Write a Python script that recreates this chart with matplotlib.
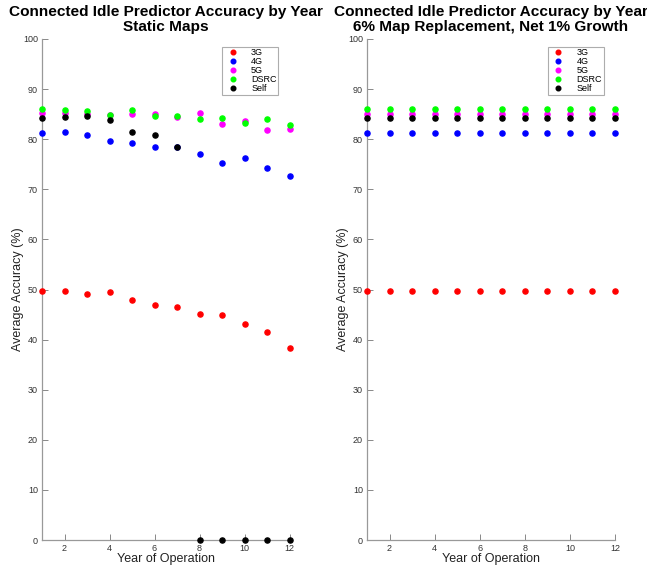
import matplotlib
matplotlib.use("Agg")
import matplotlib.pyplot as plt
import numpy as np

plt.rcParams['font.family'] = ['Liberation Sans', 'DejaVu Sans']

years = [1, 2, 3, 4, 5, 6, 7, 8, 9, 10, 11, 12]
series_names = ["3G", "4G", "5G", "DSRC", "Self"]
colors = ["#ff0000", "#0000ff", "#ff00ff", "#00ff00", "#000000"]

# Static maps
static_3g = [49.7, 49.7, 49.2, 49.5, 48.0, 47.0, 46.5, 45.1, 45.0, 43.2, 41.5, 38.4]
static_4g = [81.2, 81.4, 80.9, 79.6, 79.3, 78.5, 78.5, 77.0, 75.3, 76.2, 74.3, 72.6]
static_5g = [85.2, 85.2, 85.0, 84.8, 85.0, 85.1, 84.4, 85.3, 83.0, 83.7, 81.8, 82.0]
static_dsrc = [86.0, 85.8, 85.7, 84.8, 85.8, 84.6, 84.7, 84.1, 84.3, 83.3, 84.1, 82.9]
static_self = [84.3, 84.4, 84.6, 83.9, 81.4, 80.8, 78.5, 0.0, 0.0, 0.0, 0.0, 0.0]

# 6% map replacement, net 1% growth
repl_3g = [49.7] * 12
repl_4g = [81.2] * 12
repl_5g = [85.1] * 12
repl_dsrc = [86.0] * 12
repl_self = [84.3] * 12

titles = ["Connected Idle Predictor Accuracy by Year\nStatic Maps",
          "Connected Idle Predictor Accuracy by Year\n6% Map Replacement, Net 1% Growth"]
xticks = [2, 4, 6, 8, 10, 12]
yticks = [0, 10, 20, 30, 40, 50, 60, 70, 80, 90, 100]

W, H = 647, 570
fig = plt.figure(figsize=(W / 100, H / 100), dpi=100)
ax1 = fig.add_axes([42 / W, 30 / H, 247.5 / W, 501 / H])
ax2 = fig.add_axes([367 / W, 30 / H, 248 / W, 501 / H])

datasets = [
    [static_3g, static_4g, static_5g, static_dsrc, static_self],
    [repl_3g, repl_4g, repl_5g, repl_dsrc, repl_self],
]

for ax, data, title in zip([ax1, ax2], datasets, titles):
    for name, col, vals in zip(series_names, colors, data):
        ax.plot(years, vals, linestyle='none', marker='o', markersize=3.7,
                color=col, markeredgecolor=col, label=name, clip_on=False, zorder=3)
    ax.set_xlim(1, 12)
    ax.set_ylim(0, 100)
    ax.set_xticks(xticks)
    ax.set_yticks(yticks)
    for s in ['top', 'right']:
        ax.spines[s].set_visible(False)
    for s in ['left', 'bottom']:
        ax.spines[s].set_color('#999999')
        ax.spines[s].set_linewidth(0.9)
    ax.tick_params(direction='in', length=4, width=0.7, color='#888888',
                   labelsize=6.5, labelcolor='#333333', pad=3)
    ax.set_xlabel("Year of Operation", fontsize=9, color='#222222', labelpad=0)
    ax.set_ylabel("Average Accuracy (%)", fontsize=9, color='#222222', labelpad=-1)
    ax.set_title(title, fontsize=11.1, fontweight='bold', pad=5.5, linespacing=1.12)
    leg = ax.legend(loc='upper right', bbox_to_anchor=(0.955, 0.985), fontsize=6.5,
                    frameon=True, fancybox=False, handletextpad=1.1,
                    borderpad=0.2, labelspacing=0.0, handlelength=1.9,
                    markerscale=0.9, borderaxespad=0)
    leg.get_frame().set_edgecolor('#999999')
    leg.get_frame().set_linewidth(0.8)

fig.savefig("out.png", dpi=100)
